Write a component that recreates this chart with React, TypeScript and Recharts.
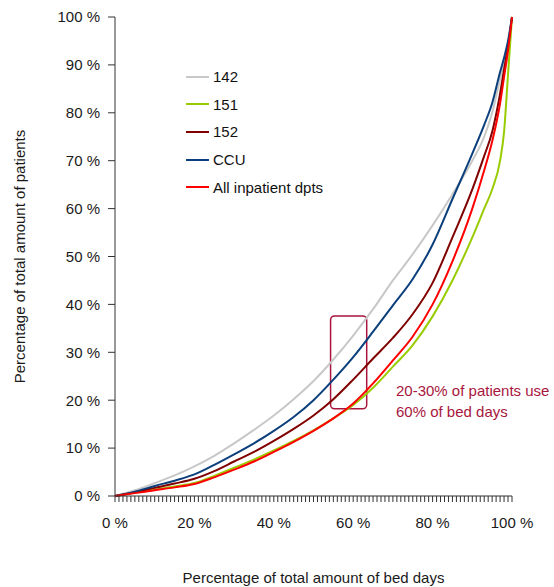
import { LineChart, Line, XAxis, YAxis, ReferenceArea } from 'recharts'

const bedDays = [0, 5, 10, 15, 20, 25, 30, 35, 40, 45, 50, 55, 60, 65, 70, 75, 80, 85, 90, 93, 95, 97, 98, 99, 100]

const dept142 = [0, 1.2, 2.7, 4.3, 6.2, 8.4, 11, 13.8, 16.8, 20.2, 24, 28.5, 33.5, 39, 45, 50.5, 56.5, 63, 70, 75, 80, 87, 90.5, 94, 100]
const dept151 = [0, 0.7, 1.3, 2, 2.7, 4.2, 5.9, 7.6, 9.5, 11.5, 13.7, 16.2, 19, 22.6, 27, 31.5, 37.5, 45, 54, 60, 64, 70, 76, 88, 100]
const dept152 = [0, 0.8, 1.7, 2.6, 3.6, 5.2, 7.2, 9.2, 11.5, 14, 16.8, 20.2, 24.3, 28.7, 33, 38, 44.5, 54, 64, 71, 76, 84, 89, 94, 100]
const ccu = [0, 0.9, 2.1, 3.2, 4.5, 6.5, 8.7, 11, 13.6, 16.5, 20, 24.3, 29, 34.3, 39.8, 45.3, 52.5, 62, 71.5, 77.5, 82, 88.5, 91.5, 95, 100]
const allDpts = [0, 0.6, 1.2, 1.8, 2.5, 3.9, 5.5, 7.2, 9.2, 11.3, 13.6, 16.2, 19.3, 23.5, 28.3, 33.3, 40, 49, 60, 68, 74, 82, 87.5, 93, 100]

const xLabelTicks = [0, 20, 40, 60, 80, 100]
const yTicks = [0, 10, 20, 30, 40, 50, 60, 70, 80, 90, 100]
const xMinorTicks = Array.from({ length: 101 }, (_, i) => i)

const data = bedDays.map((x, i) => ({
  x,
  d142: dept142[i],
  d151: dept151[i],
  d152: dept152[i],
  ccu: ccu[i],
  all: allDpts[i],
}))

const series = [
  { key: 'd142', name: '142', color: '#c8c8c8' },
  { key: 'd151', name: '151', color: '#99cc00' },
  { key: 'd152', name: '152', color: '#800000' },
  { key: 'ccu', name: 'CCU', color: '#0b3f7c' },
  { key: 'all', name: 'All inpatient dpts', color: '#ff0000' },
]

const FONT = '"Liberation Sans", Arial, sans-serif'
const ACCENT = '#a8163d'

// legend sits inside the plot, top-left; drawn as an overlay so it doesn't eat chart space
function LegendBox() {
  return (
    <div style={{ position: 'absolute', left: 186, top: 63, fontFamily: FONT, fontSize: 15, color: '#111' }}>
      {series.map(s => (
        <div key={s.key} style={{ display: 'flex', alignItems: 'center', height: 27.6 }}>
          <span style={{ display: 'inline-block', width: 23, height: 2, background: s.color, marginRight: 4 }} />
          <span>{s.name}</span>
        </div>
      ))}
    </div>
  )
}

export default function App() {
  return (
    <div style={{ position: 'absolute', left: 0, top: 0, width: 554, height: 587, background: '#fff' }}>
      <LineChart width={554} height={587} data={data} margin={{ top: 17, right: 42, bottom: 0, left: 0 }}>
        <XAxis
          dataKey="x"
          type="number"
          domain={[0, 100]}
          ticks={xMinorTicks}
          interval={0}
          tickFormatter={v => (xLabelTicks.includes(v) ? `${v} %` : '')}
          height={91}
          tickSize={6}
          tickMargin={15}
          stroke="#333"
          tick={{ fill: '#1a1a1a', fontSize: 15, fontFamily: FONT }}
          label={{ value: 'Percentage of total amount of bed days', position: 'insideBottom', offset: 4, fill: '#1a1a1a', fontSize: 15, fontFamily: FONT }}
        />
        <YAxis
          type="number"
          domain={[0, 100]}
          ticks={yTicks}
          interval={0}
          tickFormatter={v => `${v} %`}
          width={115}
          tickSize={7}
          tickMargin={8}
          stroke="#333"
          tick={{ fill: '#1a1a1a', fontSize: 15, fontFamily: FONT }}
          label={{ value: 'Percentage of total amount of patients', angle: -90, position: 'insideLeft', offset: 20, fill: '#1a1a1a', fontSize: 15, fontFamily: FONT, style: { textAnchor: 'middle' } }}
        />
        {series.map(s => (
          <Line
            key={s.key}
            dataKey={s.key}
            name={s.name}
            type="monotone"
            stroke={s.color}
            strokeWidth={2}
            dot={false}
            isAnimationActive={false}
          />
        ))}
        <ReferenceArea
          x1={54.3}
          x2={63.4}
          y1={18.2}
          y2={37.6}
          shape={(p: any) => (
            <rect x={p.x} y={p.y} width={p.width} height={p.height} rx={4} ry={4} fill="none" stroke={ACCENT} strokeWidth={1.5} />
          )}
        />
      </LineChart>
      <LegendBox />
      <div style={{ position: 'absolute', left: 396, top: 380, fontFamily: FONT, fontSize: 15, color: ACCENT, lineHeight: '21px', whiteSpace: 'nowrap' }}>
        <div>20-30% of patients use</div>
        <div>60% of bed days</div>
      </div>
    </div>
  )
}
